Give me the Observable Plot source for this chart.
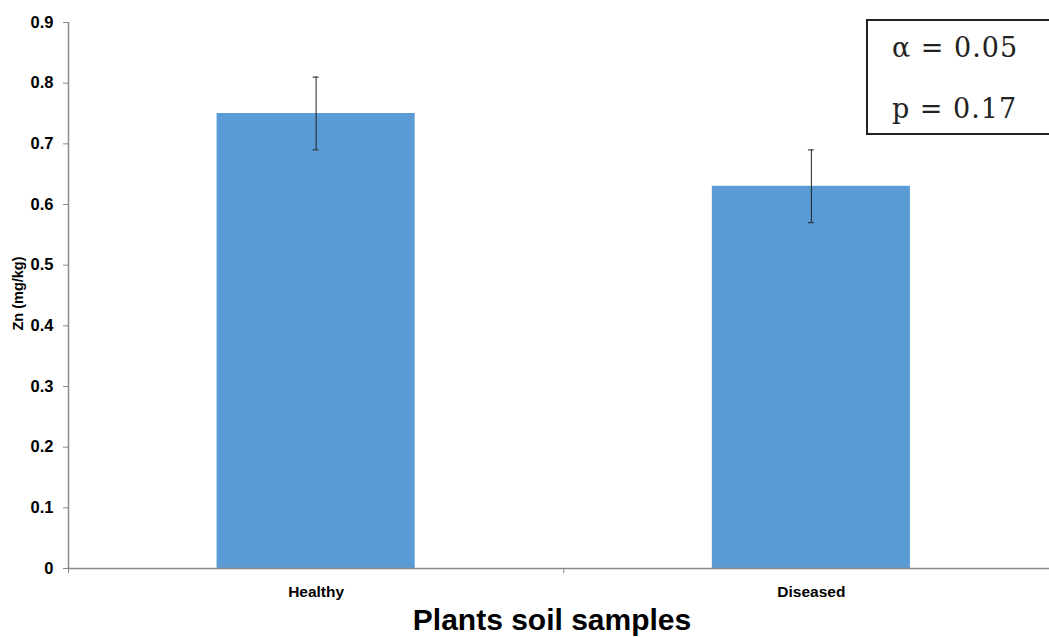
<!DOCTYPE html>
<html>
<head>
<meta charset="utf-8">
<script src="https://cdn.jsdelivr.net/npm/d3@7"></script>
<script src="https://cdn.jsdelivr.net/npm/@observablehq/plot@0.6"></script>
<style>
  html, body { margin: 0; padding: 0; background: #fff; overflow: hidden; }
  #wrap { position: relative; width: 1049px; height: 637px; }
  #stats {
    position: absolute; left: 866px; top: 19px; width: 200px; height: 116px;
    border: 2px solid #222; box-sizing: border-box; background: #fff;
    font-family: "DejaVu Serif", "Liberation Serif", serif; font-size: 27px; color: #222;
    letter-spacing: 1px;
  }
  #stats div { position: absolute; left: 24px; line-height: 27px; white-space: pre; }
</style>
</head>
<body>
<div id="wrap">
  <div id="chart"></div>
  <div id="stats"><div id="s1" style="top:13px"></div><div id="s2" style="top:74px"></div></div>
</div>
<script>
const categories = ["Healthy", "Diseased"];
const means = [0.75, 0.63];
const errors = [0.06, 0.06];
const yTicks = [0, 0.1, 0.2, 0.3, 0.4, 0.5, 0.6, 0.7, 0.8, 0.9];
const yLabel = "Zn (mg/kg)";
const xLabel = "Plants soil samples";
const statLines = ["\u03b1 = 0.05", "p = 0.17"];

const data = categories.map((c, i) => ({cat: c, idx: i, mean: means[i], err: errors[i]}));
const axisColor = "#8a8a8a";
const capHalf = 0.006;

const chart = Plot.plot({
  width: 1049,
  height: 637,
  marginLeft: 68,
  marginRight: 0,
  marginTop: 22,
  marginBottom: 69,
  style: {fontFamily: "'Liberation Sans', Arial, sans-serif", background: "#fff"},
  x: {type: "linear", domain: [0, categories.length], range: [68, 1058.5]},
  y: {domain: [0, 0.9]},
  marks: [
    Plot.rectY(data, {x1: d => d.idx + 0.3, x2: d => d.idx + 0.7, y: "mean", fill: "#5b9bd5"}),
    Plot.ruleX(data, {x: d => d.idx + 0.5, y1: d => d.mean - d.err, y2: d => d.mean + d.err, stroke: "#222", strokeWidth: 1}),
    Plot.ruleY(data, {x1: d => d.idx + 0.5 - capHalf, x2: d => d.idx + 0.5 + capHalf, y: d => d.mean + d.err, stroke: "#222"}),
    Plot.ruleY(data, {x1: d => d.idx + 0.5 - capHalf, x2: d => d.idx + 0.5 + capHalf, y: d => d.mean - d.err, stroke: "#222"}),
    Plot.ruleX([0], {y1: 0, y2: 0.9, stroke: axisColor, strokeWidth: 1.5}),
    Plot.ruleY([0], {stroke: axisColor, strokeWidth: 1.5}),
    Plot.axisY({ticks: yTicks, tickFormat: d => d === 0 ? "0" : d3.format(".1f")(d), tickSize: 5, tickPadding: 10,
      stroke: axisColor, color: "#000", fontSize: 16.5, fontWeight: "bold", label: null}),
    Plot.axisX({ticks: d3.range(categories.length + 1), tickFormat: () => "", tickSize: 5, stroke: axisColor, label: null}),
    Plot.axisX({ticks: categories.map((c, i) => i + 0.5), tickFormat: t => categories[Math.floor(t)], tickSize: 0, tickPadding: 17,
      fontSize: 15.5, fontWeight: "bold", color: "#000", label: null}),
    Plot.text([xLabel], {frameAnchor: "bottom", dx: -7, dy: 52, lineAnchor: "middle", fontSize: 30, fontWeight: "bold", fill: "#000"}),
    Plot.text([yLabel], {frameAnchor: "left", dx: -50, dy: -2, rotate: -90, textAnchor: "middle", fontSize: 14.5, fontWeight: "bold", fill: "#000"})
  ]
});
document.getElementById("chart").appendChild(chart);
document.getElementById("s1").textContent = statLines[0];
document.getElementById("s2").textContent = statLines[1];
</script>
</body>
</html>
